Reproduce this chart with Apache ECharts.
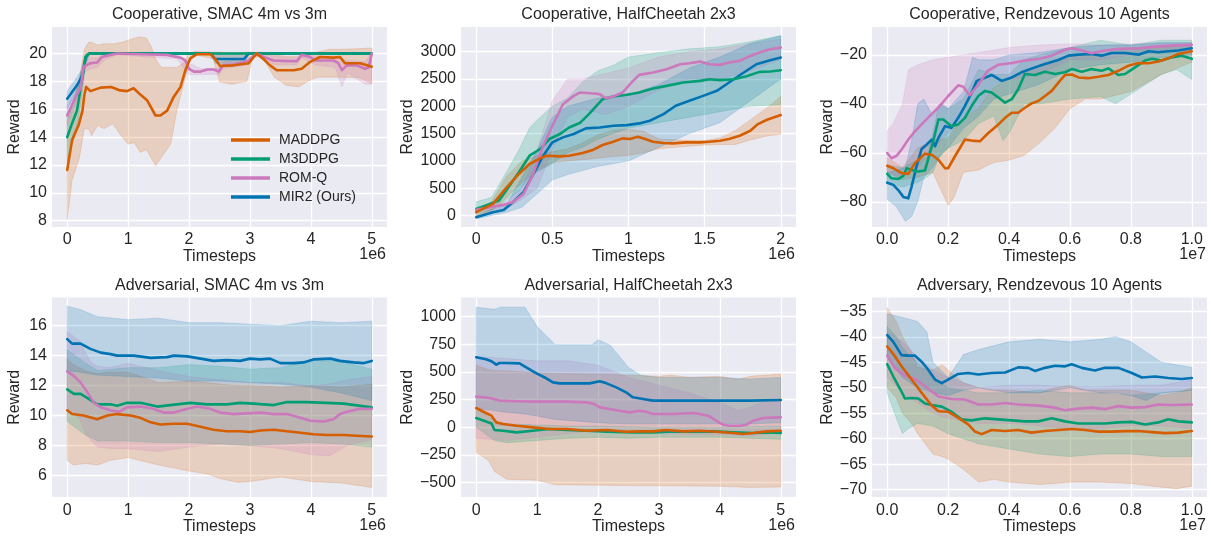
<!DOCTYPE html>
<html><head><meta charset="utf-8">
<script src="https://cdn.jsdelivr.net/npm/echarts@6/dist/echarts.min.js"></script>
<style>html,body{margin:0;padding:0;background:#fff}#c{width:1211px;height:536px}</style>
</head><body><div id="c"></div><script>
// ---------- names, titles, ticks ----------
const seriesNames = ['MADDPG','M3DDPG','ROM-Q','MIR2 (Ours)'];
const titles = ['Cooperative, SMAC 4m vs 3m','Cooperative, HalfCheetah 2x3','Cooperative, Rendzevous 10 Agents',
  'Adversarial, SMAC 4m vs 3m','Adversarial, HalfCheetah 2x3','Adversary, Rendzevous 10 Agents'];
const offsetTexts = ['1e6','1e6','1e7','1e6','1e6','1e7'];
const xTicks1 = [0,1,2,3,4,5];
const xTicks2 = [0,0.5,1,1.5,2];
const xTicks3 = [0,0.2,0.4,0.6,0.8,1.0];
const xTicks4 = [0,1,2,3,4,5];
const xTicks5 = [0,1,2,3,4,5];
const xTicks6 = [0,0.2,0.4,0.6,0.8,1.0];
const yTicks1 = [8,10,12,14,16,18,20];
const yTicks2 = [0,500,1000,1500,2000,2500,3000];
const yTicks3 = [-80,-60,-40,-20];
const yTicks4 = [6,8,10,12,14,16];
const yTicks5 = [-500,-250,0,250,500,750,1000];
const yTicks6 = [-70,-65,-60,-55,-50,-45,-40,-35];
const xRange1 = [-0.25,5.25], xRange2 = [-0.1,2.1], xRange3 = [-0.05,1.05];
const xRange4 = [-0.25,5.25], xRange5 = [-0.25,5.25], xRange6 = [-0.05,1.05];
const yRange1 = [7.55,21.9], yRange2 = [-210,3450], yRange3 = [-90.3,-8.6];
const yRange4 = [4.56,17.88], yRange5 = [-632,1172], yRange6 = [-71.45,-32.3];

// ---------- panel 1: Cooperative SMAC (x in 1e6) ----------
const s1_maddpg = [[0,11.65],[0.08,13.8],[0.19,14.9],[0.25,15.9],[0.28,17.0],[0.31,17.6],[0.38,17.3],[0.55,17.55],[0.72,17.6],[0.87,17.35],[0.98,17.3],[1.09,17.5],[1.2,17.05],[1.31,16.65],[1.45,15.55],[1.53,15.55],[1.64,15.9],[1.75,16.9],[1.86,17.6],[1.94,18.8],[2.02,19.65],[2.13,19.95],[2.35,19.95],[2.43,19.6],[2.51,19.1],[2.73,19.15],[2.98,19.3],[3.11,20.0],[3.22,19.6],[3.33,19.15],[3.44,18.8],[3.72,18.8],[3.85,18.9],[3.99,19.4],[4.15,19.75],[4.37,19.7],[4.48,19.75],[4.56,19.3],[4.81,19.3],[5.0,19.05]];
const s1_m3ddpg = [[0,14.0],[0.08,15.0],[0.16,15.9],[0.25,18.3],[0.3,19.75],[0.36,20.0],[1,20],[2,20],[3,20],[4,20],[5,20]];
const s1_romq = [[0,15.55],[0.14,16.9],[0.22,17.5],[0.27,19.05],[0.38,19.3],[0.49,19.35],[0.57,19.75],[0.71,19.9],[0.82,20],[1.26,19.95],[1.64,19.9],[1.86,19.7],[1.94,19.5],[2.0,18.9],[2.08,18.7],[2.19,18.7],[2.3,18.85],[2.4,18.85],[2.49,18.7],[2.56,19.15],[2.73,19.2],[2.98,19.5],[3.11,20],[3.22,19.75],[3.39,19.5],[3.66,19.45],[3.77,19.45],[3.85,19.9],[3.99,19.75],[4.07,19.5],[4.37,19.5],[4.45,19.3],[4.51,18.8],[4.59,19.15],[4.75,19.15],[4.89,18.9],[4.95,19.0],[5.0,20]];
const s1_mir2 = [[0,16.75],[0.165,17.75],[0.22,18.2],[0.26,18.6],[0.3,19.7],[0.36,20.0],[1,20],[2,20],[2.35,20],[2.43,19.6],[2.9,19.6],[2.98,20],[4,20],[5,20]];
const s1_maddpg_band = [[0,8.1,15.2],[0.08,10.9,16.3],[0.2,12.5,18.2],[0.28,14.6,20.3],[0.35,14.6,20.8],[0.4,14.1,20.8],[0.5,14.85,20.6],[0.6,14.6,20.7],[0.75,14.95,20.7],[0.9,14.0,20.8],[1.0,13.5,20.95],[1.1,13.6,21.1],[1.2,12.9,21.2],[1.3,13.1,21.1],[1.38,12.5,20.5],[1.45,11.95,19.6],[1.55,12.55,19.0],[1.7,13.5,19.0],[1.8,15.9,19.0],[1.9,17.6,19.3],[2.0,19.3,20.0],[2.1,19.9,20.15],[2.4,19.6,20.1],[2.5,17.95,20.1],[2.7,17.8,20.0],[2.95,18.0,20.1],[3.05,19.75,20.1],[3.2,19.75,20.1],[3.4,18.3,19.9],[3.6,17.7,19.8],[3.8,17.6,19.8],[3.95,18.0,19.9],[4.1,18.3,20.1],[4.3,18.3,20.3],[4.5,18.3,20.3],[4.8,18.25,20.35],[5.0,17.85,20.4]];
const s1_m3ddpg_band = [[0,12.3,15.8],[0.08,13.5,16.3],[0.16,14.6,17.3],[0.25,17.3,19.2],[0.3,19.2,20.0],[0.36,19.95,20.05],[5.0,19.95,20.05]];
const s1_romq_band = [[0,14.8,16.3],[0.14,16.4,17.4],[0.22,17.0,18.0],[0.27,18.6,19.5],[0.38,18.9,19.7],[0.5,19.0,19.7],[0.6,19.5,19.95],[0.82,19.9,20.05],[1.8,19.6,19.95],[2.0,18.5,19.3],[2.2,18.5,18.9],[2.5,18.5,18.95],[2.56,18.9,19.4],[2.98,19.2,19.7],[3.11,19.9,20.05],[3.4,19.2,19.8],[3.77,19.2,19.7],[3.85,19.7,20.0],[4.07,19.2,19.8],[4.4,19.0,19.7],[4.51,17.6,19.6],[4.6,18.6,19.5],[4.89,17.8,19.4],[5.0,17.8,20.1]];
const s1_mir2_band = [[0,16.0,17.3],[0.16,17.3,18.3],[0.25,17.9,18.9],[0.3,19.2,19.9],[0.36,19.95,20.05],[2.35,19.95,20.05],[2.43,19.3,20.0],[2.9,19.3,20.0],[2.98,19.95,20.05],[5,19.95,20.05]];

// ---------- panel 2: Cooperative HalfCheetah (x in 1e6) ----------
const s2_maddpg = [[0,61],[0.11,213],[0.2,517],[0.28,760],[0.35,943],[0.42,1047],[0.46,1095],[0.55,1083],[0.61,1095],[0.7,1144],[0.77,1205],[0.83,1290],[0.9,1351],[0.96,1412],[1.01,1400],[1.06,1442],[1.11,1400],[1.16,1351],[1.23,1327],[1.29,1320],[1.38,1339],[1.47,1339],[1.53,1351],[1.6,1369],[1.66,1400],[1.73,1460],[1.8,1552],[1.85,1673],[1.91,1752],[2.0,1838]];
const s2_m3ddpg = [[0,122],[0.09,213],[0.15,274],[0.22,548],[0.28,791],[0.35,1095],[0.42,1217],[0.48,1400],[0.55,1491],[0.61,1612],[0.68,1692],[0.74,1856],[0.83,2130],[0.9,2178],[0.99,2209],[1.07,2251],[1.16,2324],[1.25,2373],[1.36,2434],[1.47,2464],[1.53,2495],[1.6,2477],[1.69,2495],[1.77,2543],[1.86,2629],[1.93,2635],[2.0,2659]];
const s2_romq = [[0,103],[0.09,152],[0.18,195],[0.24,243],[0.31,396],[0.37,730],[0.44,1278],[0.5,1643],[0.57,2038],[0.64,2190],[0.68,2251],[0.77,2233],[0.81,2221],[0.85,2148],[0.9,2178],[0.96,2251],[1.03,2464],[1.07,2574],[1.16,2616],[1.25,2677],[1.34,2769],[1.4,2787],[1.47,2817],[1.53,2769],[1.6,2757],[1.66,2799],[1.73,2830],[1.8,2921],[1.86,2982],[1.93,3043],[2.0,3073]];
const s2_mir2 = [[0,-30],[0.11,61],[0.18,103],[0.24,243],[0.31,426],[0.37,730],[0.44,1095],[0.5,1339],[0.57,1430],[0.64,1491],[0.72,1594],[0.81,1612],[0.9,1643],[0.99,1655],[1.07,1686],[1.14,1734],[1.23,1856],[1.31,2008],[1.4,2099],[1.49,2190],[1.58,2282],[1.66,2434],[1.75,2604],[1.84,2769],[1.93,2842],[2.0,2890]];
const s2_maddpg_band = [[0,-20,100],[0.1,80,250],[0.2,330,720],[0.3,600,1000],[0.4,820,1100],[0.5,970,1170],[0.6,1000,1220],[0.7,1020,1330],[0.8,1050,1480],[0.9,1080,1560],[1.0,1100,1580],[1.1,1150,1540],[1.2,1220,1400],[1.35,1260,1380],[1.5,1290,1370],[1.6,1300,1420],[1.7,1300,1550],[1.8,1380,1750],[1.9,1450,1950],[2.0,1490,2180]];
const s2_m3ddpg_band = [[0,30,250],[0.1,100,330],[0.2,280,800],[0.28,450,1200],[0.35,700,1600],[0.4,800,1750],[0.5,950,2000],[0.6,1150,2150],[0.7,1250,2450],[0.8,1400,2650],[0.9,1500,2750],[1.0,1600,2900],[1.2,1700,2980],[1.4,1800,3050],[1.6,1900,3090],[1.8,2000,3180],[2.0,2030,3290]];
const s2_romq_band = [[0,60,150],[0.1,100,200],[0.2,130,250],[0.3,300,500],[0.4,500,1200],[0.5,1200,2100],[0.6,1800,2500],[0.7,1950,2500],[0.85,1850,2600],[1.0,2000,2700],[1.2,2300,2900],[1.4,2500,3000],[1.6,2500,3050],[1.8,2650,3150],[2.0,2850,3230]];
const s2_mir2_band = [[0,-60,0],[0.1,0,110],[0.2,60,200],[0.3,150,700],[0.4,400,1200],[0.5,650,1800],[0.6,750,2000],[0.8,900,2150],[1.0,1000,2200],[1.2,1250,2400],[1.4,1500,2700],[1.6,1700,2900],[1.8,2100,3150],[2.0,2500,3290]];

// ---------- panel 3: Cooperative Rendezvous (x in 1e7) ----------
const s3_maddpg = [[0,-65.3],[0.02,-66.3],[0.047,-68.3],[0.069,-68.6],[0.091,-64.2],[0.124,-60.4],[0.146,-60.8],[0.168,-62.8],[0.19,-66.3],[0.2,-66.3],[0.222,-61.5],[0.255,-54.6],[0.277,-55.0],[0.304,-55.3],[0.332,-51.9],[0.365,-48.4],[0.387,-45.7],[0.409,-43.6],[0.43,-43.6],[0.452,-41.6],[0.474,-39.8],[0.496,-38.8],[0.518,-36.8],[0.54,-34.7],[0.562,-31.3],[0.584,-28.2],[0.606,-28.0],[0.628,-29.2],[0.66,-29.5],[0.693,-28.9],[0.726,-28.2],[0.759,-26.5],[0.792,-24.4],[0.825,-23.3],[0.858,-23.4],[0.89,-22.7],[0.923,-21.4],[0.956,-19.6],[1.0,-18.5]];
const s3_m3ddpg = [[0,-68.6],[0.014,-70.4],[0.036,-70.7],[0.053,-69.4],[0.064,-66.3],[0.08,-67.0],[0.102,-67.6],[0.124,-67.2],[0.14,-60.1],[0.151,-55.3],[0.168,-46.4],[0.184,-46.4],[0.211,-49.1],[0.233,-48.4],[0.255,-45.7],[0.277,-40.9],[0.299,-36.8],[0.321,-34.7],[0.343,-35.4],[0.365,-37.4],[0.387,-39.5],[0.409,-38.1],[0.43,-34.0],[0.452,-27.8],[0.485,-28.2],[0.518,-26.9],[0.551,-27.8],[0.584,-27.1],[0.606,-25.8],[0.639,-26.9],[0.671,-25.8],[0.704,-26.5],[0.726,-25.5],[0.759,-28.2],[0.781,-27.8],[0.814,-25.1],[0.847,-22.3],[0.869,-21.6],[0.901,-22.3],[0.934,-21.0],[0.967,-20.3],[1.0,-21.6]];
const s3_romq = [[0,-60.1],[0.014,-62.2],[0.031,-61.2],[0.047,-58.7],[0.069,-54.6],[0.091,-51.2],[0.135,-45.5],[0.168,-41.5],[0.2,-36.8],[0.233,-32.4],[0.25,-33.0],[0.27,-36.5],[0.3,-32.0],[0.33,-26.5],[0.365,-24.0],[0.41,-23.3],[0.452,-22.3],[0.5,-21.6],[0.54,-20.3],[0.584,-17.9],[0.606,-17.3],[0.64,-18.2],[0.67,-19.3],[0.715,-18.2],[0.76,-17.5],[0.825,-17.3],[0.88,-16.6],[0.934,-16.2],[1.0,-15.9]];
const s3_mir2 = [[0,-72.2],[0.02,-73.1],[0.036,-75.2],[0.053,-78.0],[0.069,-78.6],[0.08,-73.8],[0.096,-65.6],[0.113,-58.4],[0.129,-56.7],[0.146,-54.6],[0.157,-57.3],[0.168,-53.9],[0.19,-49.1],[0.211,-49.8],[0.233,-45.7],[0.255,-40.9],[0.277,-35.4],[0.294,-30.6],[0.31,-29.9],[0.343,-28.2],[0.376,-30.6],[0.409,-29.2],[0.441,-27.1],[0.485,-25.1],[0.518,-23.7],[0.562,-22.1],[0.595,-20.3],[0.628,-19.9],[0.671,-19.6],[0.704,-20.3],[0.737,-19.2],[0.781,-19.2],[0.825,-19.9],[0.858,-18.5],[0.89,-18.9],[0.923,-18.5],[0.956,-18.2],[1.0,-17.3]];
const s3_maddpg_band = [[0,-68,-62],[0.05,-71,-66],[0.1,-70,-58],[0.15,-68,-55],[0.2,-81.5,-54],[0.22,-78,-50],[0.25,-68,-46],[0.3,-67,-42],[0.35,-64,-33],[0.4,-63,-30],[0.45,-61,-27],[0.5,-56,-24],[0.55,-50,-22],[0.6,-42,-20],[0.65,-38,-20],[0.7,-38,-20],[0.8,-35,-17],[0.9,-28,-17],[1.0,-23,-16]];
const s3_m3ddpg_band = [[0,-72,-65],[0.05,-74,-66],[0.1,-72,-63],[0.13,-70,-62],[0.15,-68,-52],[0.17,-62,-40],[0.2,-58,-42],[0.25,-55,-38],[0.3,-48,-26],[0.35,-45,-28],[0.38,-55,-28],[0.4,-52,-28],[0.45,-40,-22],[0.5,-40,-20],[0.6,-38,-17],[0.7,-37,-14],[0.75,-40,-15],[0.8,-36,-16],[0.85,-32,-15],[0.9,-28,-14],[0.95,-26,-14],[1.0,-30,-14]];
const s3_romq_band = [[0,-68,-51],[0.02,-69,-48],[0.05,-70,-40],[0.07,-68,-26],[0.1,-66,-24],[0.15,-58,-22],[0.2,-52,-21],[0.25,-45,-20],[0.3,-42,-19],[0.35,-32,-18],[0.4,-30,-17],[0.5,-28,-16],[0.6,-22,-15.5],[0.7,-22,-16],[0.8,-20,-15.5],[0.9,-19,-15],[1.0,-17,-15]];
const s3_mir2_band = [[0,-79,-68],[0.03,-82,-67],[0.06,-88,-66],[0.08,-86,-55],[0.1,-80,-40],[0.12,-70,-38],[0.15,-66,-45],[0.18,-60,-40],[0.2,-58,-42],[0.25,-50,-35],[0.28,-47,-21],[0.3,-45,-22],[0.35,-38,-22],[0.4,-36,-20],[0.5,-32,-19],[0.6,-26,-17],[0.7,-24,-16],[0.8,-23,-16],[0.9,-21,-15],[1.0,-20,-15]];

// ---------- panel 4: Adversarial SMAC (x in 1e6) ----------
const s4_maddpg = [[0,10.35],[0.08,10.1],[0.27,10.0],[0.49,9.75],[0.66,10.0],[0.82,10.1],[1.04,10.0],[1.2,9.85],[1.37,9.55],[1.53,9.4],[1.75,9.45],[1.97,9.45],[2.19,9.25],[2.4,9.05],[2.62,8.95],[2.84,8.95],[3.0,8.9],[3.17,9.0],[3.39,9.05],[3.61,8.95],[3.83,8.85],[4.04,8.75],[4.26,8.7],[4.54,8.7],[4.75,8.65],[5.0,8.6]];
const s4_m3ddpg = [[0,11.75],[0.11,11.45],[0.22,11.45],[0.36,11.1],[0.49,10.75],[0.71,10.75],[0.82,10.65],[0.98,10.85],[1.2,10.85],[1.48,10.6],[1.69,10.7],[2.02,10.85],[2.3,10.75],[2.62,10.75],[2.84,10.85],[3.06,10.8],[3.39,10.7],[3.61,10.9],[3.93,10.9],[4.26,10.85],[4.54,10.8],[4.81,10.65],[5.0,10.55]];
const s4_romq = [[0,12.95],[0.11,12.65],[0.22,12.2],[0.33,11.55],[0.44,10.85],[0.55,10.55],[0.71,10.35],[0.85,10.25],[0.98,10.55],[1.2,10.6],[1.42,10.45],[1.58,10.2],[1.75,10.2],[1.97,10.45],[2.13,10.6],[2.35,10.45],[2.51,10.2],[2.73,10.1],[2.95,10.15],[3.17,10.2],[3.39,10.1],[3.61,10.1],[3.83,9.85],[3.99,9.65],[4.21,9.6],[4.37,9.75],[4.48,10.1],[4.59,10.25],[4.81,10.45],[5.0,10.45]];
const s4_mir2 = [[0,15.1],[0.08,14.8],[0.22,14.8],[0.38,14.45],[0.55,14.2],[0.71,14.1],[0.82,14.0],[1.09,14.0],[1.37,13.85],[1.64,13.9],[1.75,14.0],[1.97,13.95],[2.19,13.8],[2.4,13.65],[2.62,13.7],[2.84,13.65],[3.0,13.8],[3.17,13.75],[3.33,13.8],[3.5,13.5],[3.72,13.5],[3.88,13.55],[4.04,13.75],[4.32,13.8],[4.48,13.65],[4.7,13.55],[4.86,13.5],[5.0,13.65]];
const s4_maddpg_band = [[0,7.0,13.8],[0.1,6.7,13.4],[0.3,6.8,13.0],[0.5,6.7,12.8],[0.7,7.0,12.9],[1.0,7.2,12.9],[1.5,6.7,12.2],[2.0,6.3,12.3],[2.3,6.1,12.2],[2.5,5.8,12.1],[2.8,5.55,12.0],[3.0,5.6,12.0],[3.5,5.9,11.9],[4.0,5.6,12.0],[4.5,5.5,11.9],[5.0,5.2,12.1]];
const s4_m3ddpg_band = [[0,9.6,14.4],[0.3,8.7,13.5],[0.5,8.3,13.0],[1.0,8.3,13.2],[1.5,8.2,13.2],[2.0,8.2,13.4],[2.5,8.1,13.3],[3.0,8.0,13.1],[3.5,8.1,13.2],[4.0,8.2,13.7],[4.5,8.1,13.6],[5.0,7.9,13.1]];
const s4_romq_band = [[0,10.4,15.6],[0.2,9.8,15.0],[0.3,8.8,14.2],[0.4,8.3,13.5],[0.5,7.9,13.3],[0.7,7.8,13.2],[1.0,7.8,13.5],[1.5,7.6,13.0],[2.0,7.9,12.6],[2.5,8.1,12.4],[3.0,8.0,12.2],[3.5,7.8,12.2],[4.0,7.4,12.0],[4.3,7.3,12.1],[4.6,8.0,12.4],[5.0,8.4,12.6]];
const s4_mir2_band = [[0,13.0,17.3],[0.2,12.9,17.1],[0.5,12.7,16.6],[1.0,12.6,16.4],[1.5,12.5,16.5],[2.0,12.3,16.2],[2.5,12.3,16.2],[3.0,12.2,16.1],[3.5,12.1,16.0],[4.0,11.9,16.3],[4.5,11.5,16.2],[5.0,11.0,16.3]];

// ---------- panel 5: Adversarial HalfCheetah (x in 1e6) ----------
const s5_maddpg = [[0,173],[0.16,128],[0.25,104],[0.33,43],[0.44,28],[0.66,13],[0.93,-2],[1.2,-17],[1.48,-17],[1.81,-32],[2.14,-26],[2.46,-41],[2.68,-38],[2.9,-38],[3.12,-26],[3.4,-38],[3.67,-32],[3.94,-41],[4.22,-53],[4.38,-62],[4.55,-53],[4.76,-38],[5.0,-32]];
const s5_m3ddpg = [[0,83],[0.16,52],[0.25,34],[0.3,-26],[0.44,-32],[0.66,-47],[0.93,-32],[1.2,-17],[1.48,-26],[1.81,-32],[2.14,-41],[2.57,-47],[2.9,-47],[3.23,-38],[3.56,-41],[3.89,-38],[4.22,-47],[4.55,-53],[4.76,-47],[5.0,-53]];
const s5_romq = [[0,276],[0.22,264],[0.38,240],[0.66,234],[0.93,231],[1.2,231],[1.48,231],[1.81,224],[1.94,209],[2.03,179],[2.19,164],[2.35,149],[2.52,134],[2.68,149],[2.79,140],[2.9,119],[3.23,119],[3.56,128],[3.67,119],[3.83,98],[3.94,58],[4.05,22],[4.16,13],[4.33,13],[4.44,22],[4.55,58],[4.71,83],[5.0,89]];
const s5_mir2 = [[0,632],[0.16,614],[0.25,596],[0.33,565],[0.38,580],[0.49,580],[0.71,577],[0.82,541],[0.99,487],[1.15,442],[1.26,405],[1.37,396],[1.59,396],[1.86,396],[2.03,415],[2.14,396],[2.3,360],[2.46,315],[2.57,270],[2.74,255],[2.9,240],[3.12,240],[3.5,240],[4.0,240],[4.5,240],[5.0,245]];
const s5_maddpg_band = [[0,-230,560],[0.2,-300,520],[0.3,-400,510],[0.5,-470,510],[1.0,-480,490],[1.3,-520,485],[2.0,-525,480],[2.5,-528,470],[3.0,-530,460],[3.2,-530,470],[3.5,-532,450],[4.0,-535,460],[4.3,-540,430],[4.5,-545,460],[5.0,-540,480]];
const s5_m3ddpg_band = [[0,0,170],[0.3,-120,60],[0.5,-140,30],[1.0,-120,20],[1.5,-100,10],[2.0,-90,10],[2.5,-100,5],[3.0,-90,0],[4.0,-90,0],[5.0,-110,10]];
const s5_romq_band = [[0,-100,640],[0.5,-120,620],[1.0,-90,600],[1.5,-60,600],[2.0,-30,560],[2.5,-40,450],[3.0,-60,380],[3.5,-65,310],[4.0,-70,220],[4.3,-75,150],[4.5,-80,180],[4.8,-60,250],[5.0,-50,250]];
const s5_mir2_band = [[0,170,1085],[0.3,150,1065],[0.4,140,1085],[0.8,120,1085],[1.0,100,910],[1.3,70,745],[1.9,45,745],[2.0,40,790],[2.2,35,740],[2.5,30,540],[2.7,30,470],[3.0,30,450],[3.5,30,450],[4.0,30,450],[4.5,30,435],[5.0,40,450]];

// ---------- panel 6: Adversary Rendezvous (x in 1e7) ----------
const s6_maddpg = [[0,-41.9],[0.02,-43.4],[0.047,-45.8],[0.08,-48.4],[0.113,-51.0],[0.146,-53.5],[0.168,-54.6],[0.2,-54.7],[0.233,-55.9],[0.266,-57.2],[0.288,-58.6],[0.31,-59.1],[0.343,-58.3],[0.387,-58.5],[0.43,-58.3],[0.474,-58.8],[0.518,-58.5],[0.562,-58.3],[0.606,-58.1],[0.65,-58.3],[0.693,-58.6],[0.737,-58.6],[0.781,-58.5],[0.825,-58.5],[0.869,-58.7],[0.912,-58.9],[0.956,-58.8],[1.0,-58.5]];
const s6_m3ddpg = [[0,-45.4],[0.02,-47.8],[0.042,-50.2],[0.058,-52.1],[0.08,-52.0],[0.102,-52.1],[0.124,-53.1],[0.146,-53.4],[0.179,-53.7],[0.211,-54.7],[0.244,-56.2],[0.277,-56.4],[0.321,-56.0],[0.365,-56.2],[0.409,-56.4],[0.452,-56.6],[0.496,-56.6],[0.54,-56.0],[0.584,-56.6],[0.628,-57.0],[0.671,-57.0],[0.715,-57.0],[0.759,-56.8],[0.803,-56.7],[0.847,-57.2],[0.89,-56.8],[0.923,-56.2],[0.956,-56.6],[1.0,-56.8]];
const s6_romq = [[0,-43.7],[0.025,-46.1],[0.058,-47.6],[0.091,-48.3],[0.124,-49.7],[0.168,-51.7],[0.211,-52.2],[0.255,-52.3],[0.299,-53.3],[0.343,-53.3],[0.387,-53.0],[0.43,-53.3],[0.496,-53.5],[0.54,-53.8],[0.584,-54.4],[0.628,-54.1],[0.671,-53.9],[0.715,-54.2],[0.759,-53.6],[0.803,-53.9],[0.847,-53.8],[0.89,-53.3],[0.934,-53.4],[1.0,-53.3]];
const s6_mir2 = [[0,-39.7],[0.02,-41.0],[0.047,-43.6],[0.069,-43.7],[0.091,-43.7],[0.113,-44.9],[0.135,-46.5],[0.157,-48.4],[0.179,-49.1],[0.2,-48.4],[0.233,-47.3],[0.266,-47.1],[0.299,-47.4],[0.343,-47.1],[0.387,-47.0],[0.43,-46.0],[0.463,-46.1],[0.485,-46.7],[0.518,-46.1],[0.551,-45.7],[0.584,-45.8],[0.606,-45.4],[0.639,-46.1],[0.682,-46.6],[0.715,-46.1],[0.759,-46.1],[0.803,-47.1],[0.836,-48.0],[0.88,-47.8],[0.923,-48.1],[0.967,-48.3],[1.0,-48.1]];
const s6_maddpg_band = [[0,-50,-34.3],[0.03,-52,-37],[0.05,-55,-40],[0.08,-57,-43],[0.1,-59,-46],[0.15,-63,-46.5],[0.18,-63.5,-45.5],[0.2,-64,-46.5],[0.25,-66,-49],[0.3,-68.5,-50],[0.35,-68,-50.5],[0.4,-68.5,-50.5],[0.5,-69,-51],[0.55,-68.8,-50],[0.6,-68.5,-49.5],[0.65,-68.5,-50.5],[0.7,-68.5,-50.5],[0.8,-68.8,-50.5],[0.9,-69.5,-51.5],[0.95,-69.8,-51],[1.0,-69.3,-50]];
const s6_m3ddpg_band = [[0,-51,-38],[0.03,-56,-40],[0.05,-59,-42],[0.07,-58,-43.5],[0.1,-57,-45],[0.15,-57.5,-48],[0.2,-59,-50],[0.3,-61,-51],[0.4,-62,-51],[0.5,-63,-50.5],[0.6,-63.5,-51],[0.7,-63,-51],[0.8,-63,-51.5],[0.9,-63.5,-51],[1.0,-63.5,-50.5]];
const s6_romq_band = [[0,-48,-39],[0.05,-51,-41],[0.1,-53,-44],[0.15,-55,-46.5],[0.2,-56,-48],[0.3,-57,-50],[0.4,-57,-49.5],[0.5,-57.5,-49.5],[0.6,-58,-49.8],[0.7,-58,-49.8],[0.8,-57.5,-49.5],[0.9,-57.5,-49.5],[1.0,-58,-48.5]];
const s6_mir2_band = [[0,-44,-35.5],[0.05,-48,-36.2],[0.1,-50,-37],[0.13,-50.5,-39],[0.15,-51,-45],[0.2,-51.5,-48],[0.25,-50.5,-43.5],[0.3,-50,-42.5],[0.4,-51,-41],[0.5,-51,-40.5],[0.6,-50,-41],[0.7,-51,-40.5],[0.75,-51,-40],[0.8,-51.5,-41],[0.85,-52.5,-43],[0.9,-51,-45],[1.0,-50.5,-46]];

// ---------- assembly ----------
const panels = [
  {means:[s1_maddpg,s1_m3ddpg,s1_romq,s1_mir2], bands:[s1_maddpg_band,s1_m3ddpg_band,s1_romq_band,s1_mir2_band], xt:xTicks1, yt:yTicks1, xr:xRange1, yr:yRange1, xdec:-1},
  {means:[s2_maddpg,s2_m3ddpg,s2_romq,s2_mir2], bands:[s2_maddpg_band,s2_m3ddpg_band,s2_romq_band,s2_mir2_band], xt:xTicks2, yt:yTicks2, xr:xRange2, yr:yRange2, xdec:-1},
  {means:[s3_maddpg,s3_m3ddpg,s3_romq,s3_mir2], bands:[s3_maddpg_band,s3_m3ddpg_band,s3_romq_band,s3_mir2_band], xt:xTicks3, yt:yTicks3, xr:xRange3, yr:yRange3, xdec:1},
  {means:[s4_maddpg,s4_m3ddpg,s4_romq,s4_mir2], bands:[s4_maddpg_band,s4_m3ddpg_band,s4_romq_band,s4_mir2_band], xt:xTicks4, yt:yTicks4, xr:xRange4, yr:yRange4, xdec:-1},
  {means:[s5_maddpg,s5_m3ddpg,s5_romq,s5_mir2], bands:[s5_maddpg_band,s5_m3ddpg_band,s5_romq_band,s5_mir2_band], xt:xTicks5, yt:yTicks5, xr:xRange5, yr:yRange5, xdec:-1},
  {means:[s6_maddpg,s6_m3ddpg,s6_romq,s6_mir2], bands:[s6_maddpg_band,s6_m3ddpg_band,s6_romq_band,s6_mir2_band], xt:xTicks6, yt:yTicks6, xr:xRange6, yr:yRange6, xdec:1}
];

// layout & style
const COLORS = ['#D55E00','#029E73','#CC78BC','#0173B2'];
const FONT = '"Liberation Sans", Arial, Helvetica, sans-serif';
const TXT = '#262626';
const colLeft = [52, 461, 872];
const rowTop = [27, 297.5];
const PW = 335, PH = 200;
const yNameGap = [29, 45, 33];
const lineOrder = [3, 1, 2, 0];

function rgba(hex, a) {
  const n = parseInt(hex.slice(1), 16);
  return 'rgba(' + ((n >> 16) & 255) + ',' + ((n >> 8) & 255) + ',' + (n & 255) + ',' + a + ')';
}
function fmtNum(v, dec) {
  let s = dec >= 0 ? Number(v).toFixed(dec) : String(+Number(v).toFixed(6));
  return s.replace('-', '\u2212');
}

const grid = [], xAxis = [], yAxis = [], series = [], graphic = [];
panels.forEach((p, i) => {
  const c = i % 3, r = Math.floor(i / 3);
  const left = colLeft[c], top = rowTop[r];
  grid.push({left: left, top: top, width: PW, height: PH, show: true, backgroundColor: '#EAEAF2', borderWidth: 0, containLabel: false});
  xAxis.push({
    gridIndex: i, type: 'value', min: p.xr[0], max: p.xr[1], scale: true,
    axisLine: {show: false}, axisTick: {show: false, customValues: p.xt},
    axisLabel: {customValues: p.xt, formatter: v => fmtNum(v, p.xdec), color: TXT, fontSize: 16, fontFamily: FONT, margin: 5},
    splitLine: {show: true, lineStyle: {color: '#FFFFFF', width: 1.3}},
    name: 'Timesteps', nameLocation: 'middle', nameGap: 19,
    nameTextStyle: {color: TXT, fontSize: 16, fontFamily: FONT}
  });
  yAxis.push({
    gridIndex: i, type: 'value', min: p.yr[0], max: p.yr[1], scale: true,
    axisLine: {show: false}, axisTick: {show: false, customValues: p.yt},
    axisLabel: {customValues: p.yt, formatter: v => fmtNum(v, 0), color: TXT, fontSize: 16, fontFamily: FONT, margin: 5},
    splitLine: {show: true, lineStyle: {color: '#FFFFFF', width: 1.3}},
    name: 'Reward', nameLocation: 'middle', nameGap: yNameGap[c],
    nameTextStyle: {color: TXT, fontSize: 16, fontFamily: FONT}
  });
  // bands
  p.bands.forEach((band, k) => {
    const col = COLORS[k];
    series.push({
      type: 'custom', name: seriesNames[k] + ' band', xAxisIndex: i, yAxisIndex: i,
      silent: true, z: 1, clip: true, animation: false,
      data: band, encode: {x: 0, y: [1, 2]},
      renderItem: function (params, api) {
        if (params.dataIndex !== 0) return null;
        const pts = [];
        for (let j = 0; j < band.length; j++) pts.push(api.coord([band[j][0], band[j][2]]));
        for (let j = band.length - 1; j >= 0; j--) pts.push(api.coord([band[j][0], band[j][1]]));
        return {type: 'polygon', shape: {points: pts},
          style: {fill: rgba(col, 0.2), stroke: rgba(col, 0.22), lineWidth: 0.8}};
      }
    });
  });
  // mean lines
  lineOrder.forEach(k => {
    series.push({
      type: 'line', name: seriesNames[k], xAxisIndex: i, yAxisIndex: i,
      data: p.means[k], showSymbol: false, symbol: 'none', silent: true, z: 3, animation: false,
      color: COLORS[k], itemStyle: {color: COLORS[k]},
      lineStyle: {color: COLORS[k], width: 2.6, cap: 'round', join: 'round'}, clip: true
    });
  });
  // title & offset text
  graphic.push({type: 'text', x: left + PW / 2, y: r === 0 ? 14.5 : 286,
    style: {text: titles[i], fill: TXT, font: '16px ' + FONT, align: 'center', verticalAlign: 'middle'}});
  graphic.push({type: 'text', x: left + PW - 1, y: top + PH + 28,
    style: {text: offsetTexts[i], fill: TXT, font: '16px ' + FONT, align: 'right', verticalAlign: 'middle'}});
});

const chart = echarts.init(document.getElementById('c'), null, {renderer: 'canvas'});
chart.setOption({
  backgroundColor: '#FFFFFF',
  animation: false,
  textStyle: {fontFamily: FONT},
  grid: grid, xAxis: xAxis, yAxis: yAxis, series: series, graphic: graphic,
  legend: {
    data: seriesNames, orient: 'vertical', left: 226, top: 128,
    icon: 'rect', itemWidth: 39, itemHeight: 3.5, itemGap: 5, selectedMode: false,
    textStyle: {color: TXT, fontSize: 14, fontFamily: FONT, lineHeight: 14, padding: [0, 0, 0, 4]}
  }
});
</script></body></html>
